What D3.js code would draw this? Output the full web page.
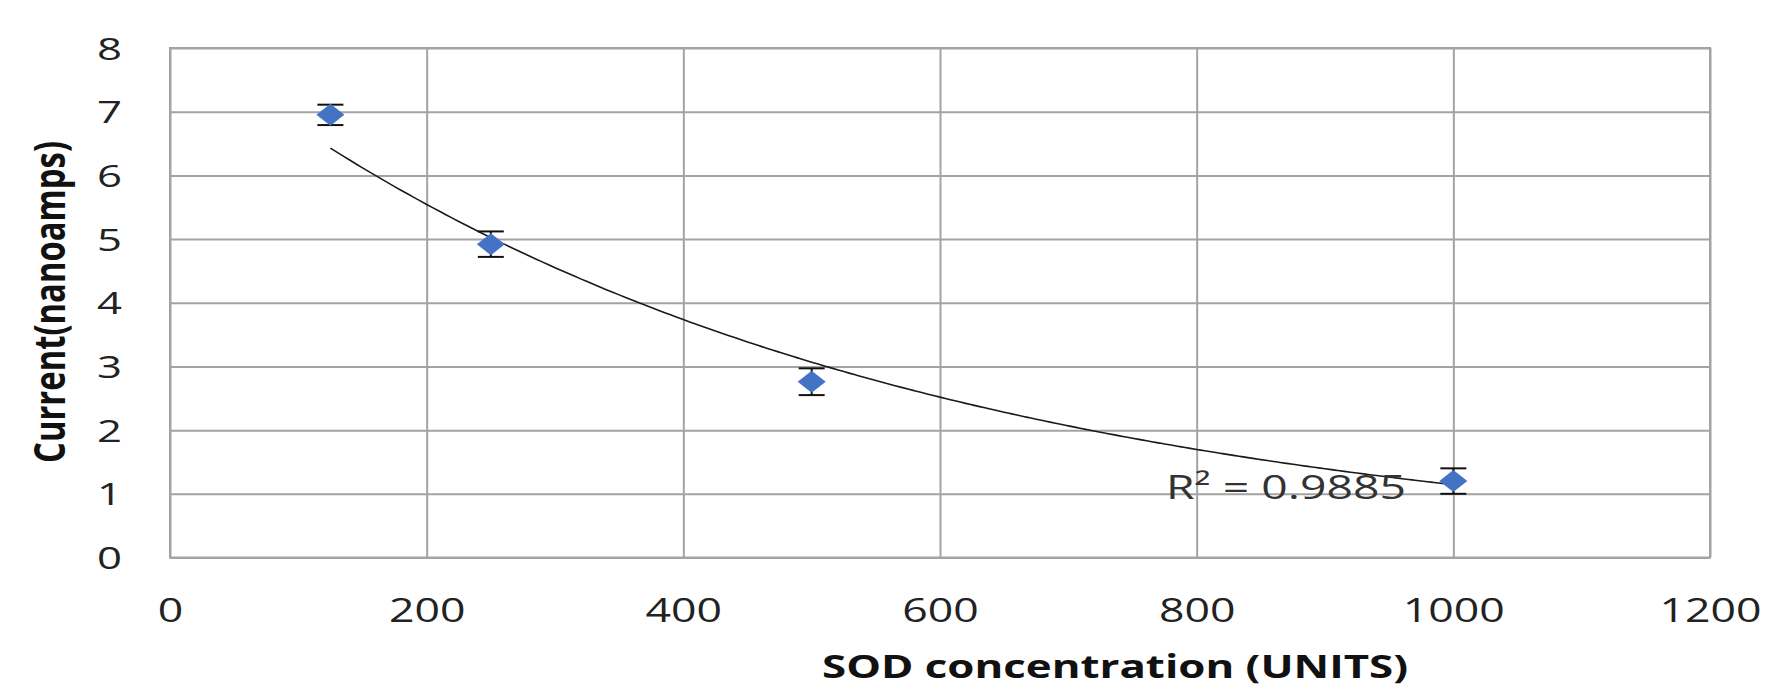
<!DOCTYPE html>
<html>
<head>
<meta charset="utf-8">
<script src="https://cdn.jsdelivr.net/npm/d3@7"></script>
<style>
  body { margin: 0; background: #fff; }
  svg { display: block; }
</style>
</head>
<body>
<svg id="chart" width="1770" height="689"></svg>
<script>
// values
var concentration = [125, 250, 500, 1000];
var current = [6.95, 4.92, 2.76, 1.20];
var errors = [0.16, 0.20, 0.21, 0.20];
var xTicks = [0, 200, 400, 600, 800, 1000, 1200];
var yTicks = [0, 1, 2, 3, 4, 5, 6, 7, 8];
var r2Label = "R\u00b2 = 0.9885";

var svg = d3.select("#chart");
var plotL = 170, plotR = 1710, plotT = 48, plotB = 557.5;
var gridColor = "#a3a3a3";
var font = "'Open Sans', sans-serif";

var x = d3.scaleLinear().domain([0, 1200]).range([plotL, plotR]);
var y = d3.scaleLinear().domain([0, 8]).range([plotB, plotT]);

// gridlines + labels (horizontal)
var yAxis = svg.append("g")
  .attr("transform", "translate(" + plotL + ",0)")
  .call(d3.axisLeft(y).tickValues(yTicks).tickFormat(d3.format("d"))
    .tickSize(-(plotR - plotL)).tickPadding(0));
yAxis.select(".domain").remove();
yAxis.selectAll("line").attr("stroke", gridColor).attr("stroke-width", 2);
yAxis.selectAll("text")
  .attr("x", -48)
  .attr("dy", "0.36em")
  .attr("fill", "#222")
  .style("font-family", font)
  .style("font-size", "31px")
  .attr("textLength", function(d) { return String(d).length * 25; })
  .attr("lengthAdjust", "spacingAndGlyphs");

// gridlines + labels (vertical)
var xAxis = svg.append("g")
  .attr("transform", "translate(0," + plotB + ")")
  .call(d3.axisBottom(x).tickValues(xTicks).tickFormat(d3.format("d"))
    .tickSize(-(plotB - plotT)).tickPadding(0));
xAxis.select(".domain").remove();
xAxis.selectAll("line").attr("stroke", gridColor).attr("stroke-width", 2);
xAxis.selectAll("text")
  .attr("y", 64)
  .attr("dy", 0)
  .attr("fill", "#222")
  .style("font-family", font)
  .style("font-size", "32px")
  .attr("textLength", function(d) { return String(d).length * 25.5; })
  .attr("lengthAdjust", "spacingAndGlyphs");

// plot border
svg.append("rect")
  .attr("x", plotL).attr("y", plotT)
  .attr("width", plotR - plotL).attr("height", plotB - plotT)
  .attr("fill", "none").attr("stroke", gridColor).attr("stroke-width", 2);

// exponential trendline, least squares on ln(y)
var lx = concentration, ly = current.map(Math.log);
var mx = d3.mean(lx), my = d3.mean(ly);
var sxy = d3.sum(lx, function(v, i) { return (v - mx) * (ly[i] - my); });
var sxx = d3.sum(lx, function(v) { return (v - mx) * (v - mx); });
var b = sxy / sxx, a = Math.exp(my - b * mx);
var fitX = d3.range(125, 1001, 5);
svg.append("path")
  .datum(fitX)
  .attr("fill", "none")
  .attr("stroke", "#1a1a1a")
  .attr("stroke-width", 1.6)
  .attr("d", d3.line()
    .x(function(d) { return x(d); })
    .y(function(d) { return y(a * Math.exp(b * d)); })
    .curve(d3.curveMonotoneX));

// R squared label
svg.append("text")
  .attr("x", 1166).attr("y", 499)
  .attr("fill", "#333")
  .style("font-family", font)
  .style("font-size", "33px")
  .attr("textLength", 240)
  .attr("lengthAdjust", "spacingAndGlyphs")
  .text(r2Label);

var pts = concentration.map(function(c, i) {
  return { x: c, y: current[i], e: errors[i] };
});

// error bars
var eb = svg.append("g").attr("stroke", "#111").attr("stroke-width", 2);
pts.forEach(function(p) {
  eb.append("line")
    .attr("x1", x(p.x)).attr("x2", x(p.x))
    .attr("y1", y(p.y + p.e)).attr("y2", y(p.y - p.e));
  [p.y + p.e, p.y - p.e].forEach(function(v) {
    eb.append("line")
      .attr("x1", x(p.x) - 13).attr("x2", x(p.x) + 13)
      .attr("y1", y(v)).attr("y2", y(v));
  });
});

// diamond markers
svg.append("g").selectAll("path")
  .data(pts)
  .enter()
  .append("path")
  .attr("transform", function(d) { return "translate(" + x(d.x) + "," + y(d.y) + ")"; })
  .attr("d", "M0,-11L14,0L0,11L-14,0Z")
  .attr("fill", "#4472c4");

// axis titles
svg.append("text")
  .attr("x", 1115).attr("y", 678)
  .attr("text-anchor", "middle")
  .attr("fill", "#111")
  .style("font-family", font)
  .style("font-weight", "bold")
  .style("font-size", "32px")
  .attr("textLength", 586)
  .attr("lengthAdjust", "spacingAndGlyphs")
  .text("SOD concentration (UNITS)");

svg.append("text")
  .attr("transform", "translate(65,302) scale(1.35,1) rotate(-90)")
  .attr("text-anchor", "middle")
  .attr("fill", "#111")
  .style("font-family", font)
  .style("font-weight", "bold")
  .style("font-size", "32px")
  .attr("textLength", 322)
  .attr("lengthAdjust", "spacingAndGlyphs")
  .text("Current(nanoamps)");
</script>
</body>
</html>
